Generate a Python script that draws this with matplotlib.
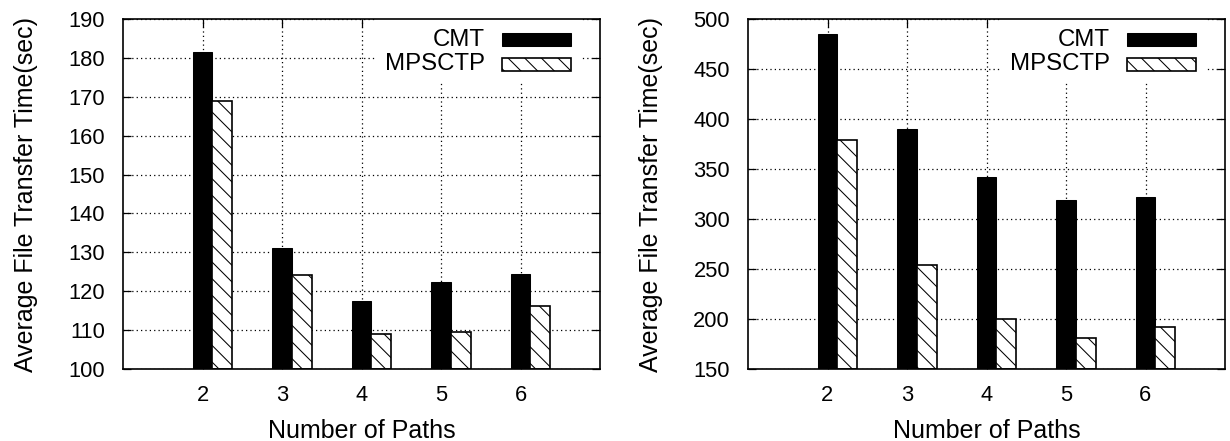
import matplotlib
matplotlib.use("Agg")
import matplotlib.pyplot as plt
from matplotlib.patches import Rectangle
import numpy as np

# Data
paths = [2, 3, 4, 5, 6]
cmt_small = [181.6, 131.2, 117.5, 122.4, 124.4]
mpsctp_small = [168.9, 124.1, 109.0, 109.6, 116.3]
cmt_large = [485.0, 390.4, 341.8, 319.0, 322.0]
mpsctp_large = [379.3, 254.3, 199.7, 181.5, 192.0]
series_labels = ["CMT", "MPSCTP"]
xlabel = "Number of Paths"
ylabel = "Average File Transfer Time(sec)"

plt.rcParams['font.family'] = ['Liberation Sans', 'DejaVu Sans']
plt.rcParams['hatch.linewidth'] = 0.5
plt.rcParams['hatch.color'] = '#333333'

DPI = 150
fig = plt.figure(figsize=(1230 / DPI, 441 / DPI), dpi=DPI)
LABEL_FS = 12
TICK_FS = 10.5
KEY_FS = 11.5
HATCH = '\\\\\\'

bw = 0.25


def panel(rect, cmt, mps, ylim, yticks):
    ax = fig.add_axes(rect)
    x = np.array(paths, dtype=float)
    base = ylim[0]
    ax.bar(x, np.array(cmt) - base, bw, bottom=base, color='black',
           edgecolor='black', linewidth=0.5, zorder=2)
    ax.bar(x + bw, np.array(mps) - base, bw, bottom=base, color='white',
           edgecolor='black', linewidth=0.8, hatch=HATCH, zorder=2)
    ax.set_xlim(1, 7)
    ax.set_ylim(*ylim)
    ax.set_xticks(paths)
    ax.set_yticks(yticks)
    ax.set_axisbelow(True)
    ax.grid(True, color='black', linestyle=(0, (1, 2.5)), linewidth=0.6)
    ax.tick_params(direction='in', top=True, right=True, length=4,
                   width=0.6, labelsize=TICK_FS)
    ax.tick_params(axis='y', pad=8.6)
    ax.tick_params(axis='x', pad=7.7)
    for s in ax.spines.values():
        s.set_linewidth(0.8)
    ax.set_xlabel(xlabel, fontsize=LABEL_FS, va='baseline')
    ax.set_ylabel(ylabel, fontsize=LABEL_FS, va='baseline')
    ax.xaxis.set_label_coords(0.5, -0.197)
    ax.yaxis.set_label_coords(-0.189, 0.5)

    # key: right-aligned labels with sample boxes, over a white background
    ax.add_patch(Rectangle((0.53, 0.82), 0.43, 0.18, transform=ax.transAxes,
                           facecolor='white', edgecolor='none', zorder=1.5))
    rows = [0.941, 0.871]
    styles = [dict(facecolor='black', edgecolor='black', linewidth=0.5),
              dict(facecolor='white', edgecolor='black', linewidth=0.8,
                   hatch=HATCH)]
    for lab, yy, st in zip(series_labels, rows, styles):
        ax.text(0.759, yy, lab, transform=ax.transAxes, ha='right',
                va='center', fontsize=KEY_FS, zorder=3)
        ax.add_patch(Rectangle((0.795, yy - 0.019), 0.144, 0.038,
                               transform=ax.transAxes, zorder=3, **st))
    return ax


H = 441.0
W = 1230.0
bottom = (H - 369) / H
height = (369 - 19) / H
panel([123 / W, bottom, 477 / W, height], cmt_small, mpsctp_small,
      (100, 190), np.arange(100, 191, 10))
panel([748 / W, bottom, 477 / W, height], cmt_large, mpsctp_large,
      (150, 500), np.arange(150, 501, 50))

fig.savefig("out.png", dpi=DPI)
